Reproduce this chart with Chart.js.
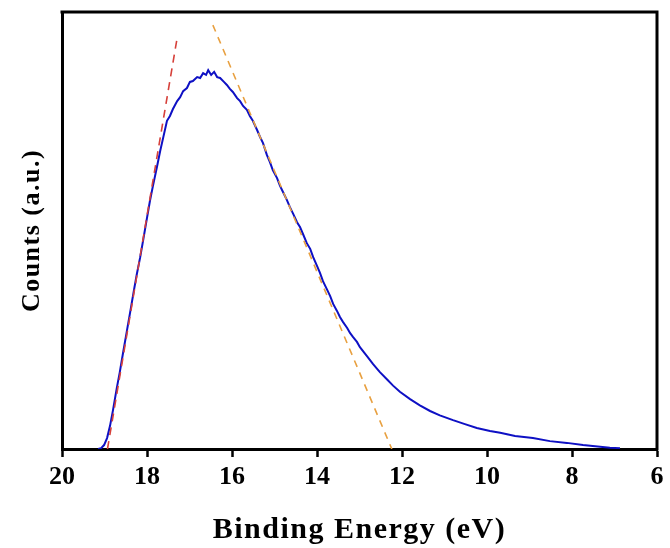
<!DOCTYPE html>
<html>
<head>
<meta charset="utf-8">
<script src="https://cdn.jsdelivr.net/npm/chart.js@4.4.0/dist/chart.umd.min.js"></script>
<style>
  html, body { margin: 0; padding: 0; background: #fff; }
  #wrap { width: 670px; height: 548px; }
</style>
</head>
<body>
<div id="wrap"><canvas id="upsChart"></canvas></div>
<script>
// spectrum (binding energy in eV, counts in arbitrary units 0..100)
const energy = [
  19.15, 19.08, 19.01, 18.94, 18.87, 18.80, 18.71, 18.64, 18.56, 18.47,
  18.40, 18.31, 18.24, 18.16, 18.09, 18.00, 17.93, 17.86, 17.76, 17.69,
  17.62, 17.53, 17.46, 17.39, 17.29, 17.22, 17.15, 17.06, 16.99, 16.92,
  16.82, 16.75, 16.68, 16.61, 16.56, 16.49, 16.42, 16.35, 16.28, 16.19,
  16.12, 16.05, 15.98, 15.88, 15.81, 15.74, 15.65, 15.58, 15.51, 15.41,
  15.34, 15.27, 15.18, 15.11, 15.04, 14.94, 14.87, 14.80, 14.71, 14.64,
  14.56, 14.47, 14.40, 14.33, 14.24, 14.16, 14.09, 14.00, 13.93, 13.86,
  13.76, 13.69, 13.62, 13.53, 13.46, 13.39, 13.29, 13.22, 13.15, 13.06,
  12.99, 12.82, 12.68, 12.52, 12.35, 12.21, 12.05, 11.81, 11.58, 11.34,
  11.11, 10.80, 10.52, 10.24, 9.93, 9.69, 9.34, 8.92, 8.52, 8.12,
  7.74, 7.34, 7.11, 6.87
];
const counts = [
  0.0, 0.2, 0.9, 2.5, 5.3, 8.9, 14.0, 17.6, 22.2, 27.2,
  31.1, 36.2, 40.0, 43.9, 47.8, 52.9, 56.8, 60.2, 64.8, 68.2,
  71.2, 75.1, 76.2, 77.8, 79.6, 80.5, 81.9, 82.6, 84.0, 84.2,
  85.1, 84.9, 86.0, 85.6, 86.7, 85.6, 86.3, 85.1, 84.9, 84.0,
  83.3, 82.4, 81.7, 80.3, 79.6, 78.5, 77.6, 76.2, 75.1, 73.0,
  71.4, 70.0, 67.3, 65.7, 63.8, 62.0, 60.2, 58.8, 57.0, 55.4,
  53.8, 51.9, 50.8, 49.2, 47.1, 45.8, 43.9, 41.9, 40.3, 38.4,
  36.4, 35.0, 33.2, 31.6, 30.2, 29.1, 27.7, 26.5, 25.6, 24.5,
  23.3, 21.2, 19.4, 17.6, 15.9, 14.5, 13.1, 11.4, 10.0, 8.7,
  7.7, 6.6, 5.7, 4.8, 4.1, 3.7, 3.0, 2.5, 1.8, 1.4,
  0.9, 0.5, 0.3, 0.2
];

// tangent lines (end points)
const onsetEnergy = [18.93, 17.29];
const onsetCounts = [0, 94.1];
const cutoffEnergy = [16.45, 12.24];
const cutoffCounts = [97.0, 0];

const xTicks = [20, 18, 16, 14, 12, 10, 8, 6];

const toPoints = (xs, ys) => xs.map((x, i) => ({ x: x, y: ys[i] }));

// spaced-out axis titles, tick labels drawn without spacing afterwards
const spacing = {
  id: "spacing",
  beforeDraw(chart) { chart.ctx.letterSpacing = "1.5px"; },
  afterDatasetsDraw(chart) { chart.ctx.letterSpacing = "0px"; }
};

// closes the box on top and right
const frame = {
  id: "frame",
  afterDraw(chart) {
    const { ctx, chartArea: a } = chart;
    ctx.save();
    ctx.strokeStyle = "#000";
    ctx.lineWidth = 3;
    ctx.beginPath();
    ctx.moveTo(a.left - 1.5, a.top);
    ctx.lineTo(a.right, a.top);
    ctx.lineTo(a.right, a.bottom + 1.5);
    ctx.stroke();
    ctx.restore();
  }
};

new Chart(document.getElementById("upsChart"), {
  type: "line",
  data: {
    datasets: [
      {
        data: toPoints(onsetEnergy, onsetCounts),
        borderColor: "rgb(214, 64, 58)",
        borderWidth: 1.6,
        borderDash: [8, 6],
        pointRadius: 0
      },
      {
        data: toPoints(cutoffEnergy, cutoffCounts),
        borderColor: "rgb(232, 160, 64)",
        borderWidth: 1.6,
        borderDash: [7, 6],
        pointRadius: 0
      },
      {
        data: toPoints(energy, counts),
        borderColor: "rgb(14, 16, 196)",
        borderWidth: 2,
        pointRadius: 0,
        tension: 0
      }
    ]
  },
  options: {
    responsive: true,
    maintainAspectRatio: false,
    animation: false,
    layout: { padding: { top: 12, right: 13, left: 0, bottom: 0 } },
    plugins: {
      legend: { display: false },
      tooltip: { enabled: false }
    },
    scales: {
      x: {
        type: "linear",
        reverse: true,
        min: 6,
        max: 20,
        afterBuildTicks: s => { s.ticks = xTicks.map(v => ({ value: v })); },
        afterFit: s => { s.height = 99; },
        grid: {
          drawOnChartArea: false,
          drawTicks: true,
          tickLength: 8,
          tickWidth: 2.5,
          tickColor: "#000"
        },
        border: { display: true, color: "#000", width: 3 },
        ticks: {
          z: 1,
          padding: 5,
          color: "#000",
          maxRotation: 0,
          font: { family: "Liberation Serif", size: 26, weight: "bold" }
        },
        title: {
          display: true,
          text: "Binding Energy (eV)",
          color: "#000",
          padding: { top: 0, bottom: 0 },
          font: { family: "Liberation Serif", size: 30, weight: "bold" }
        }
      },
      y: {
        min: 0,
        max: 100,
        afterFit: s => { s.width = 62; },
        grid: { display: false },
        border: { display: true, color: "#000", width: 3 },
        ticks: { display: false },
        title: {
          display: true,
          text: "Counts (a.u.)",
          color: "#000",
          padding: { top: 17, bottom: 0 },
          font: { family: "Liberation Serif", size: 26, weight: "bold" }
        }
      }
    }
  },
  plugins: [spacing, frame]
});
</script>
</body>
</html>
